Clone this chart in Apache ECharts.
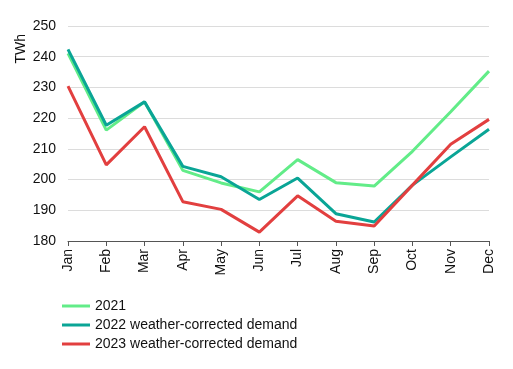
<!DOCTYPE html>
<html><head><meta charset="utf-8">
<script src="https://cdn.jsdelivr.net/npm/echarts@6/dist/echarts.min.js"></script>
<style>html,body{margin:0;padding:0;background:#fff}#c{width:513px;height:369px}</style>
</head><body><div id="c"></div>
<script>
const months = ['Jan','Feb','Mar','Apr','May','Jun','Jul','Aug','Sep','Oct','Nov','Dec'];
const s2021 = [241.1,216.1,225.3,203.0,198.9,196.0,206.5,199.0,197.9,209.2,222.1,235.3];
const s2022 = [242.4,217.7,225.3,204.3,200.9,193.5,200.5,188.9,186.2,198.2,207.4,216.4];
const s2023 = [230.4,204.8,217.2,192.8,190.3,182.9,194.7,186.4,184.9,198.2,211.5,219.6];
const names = ['2021','2022 weather-corrected demand','2023 weather-corrected demand'];
const colors = ['#62ec88','#0aa596','#e23f3f'];
const unit = 'TWh';
const font = 'Arial, "Liberation Sans", sans-serif';
const chart = echarts.init(document.getElementById('c'));
const mk = (n,d,c,z)=>({name:n,type:'line',data:d,showSymbol:false,symbol:'none',z:z,
  lineStyle:{width:3,color:c},itemStyle:{color:c}});
chart.setOption({
  animation:false,
  grid:{left:68,right:24,top:26,bottom:128,outerBoundsMode:'none',containLabel:false},
  graphic:[{type:'text',left:14,top:34,rotation:Math.PI/2,
    style:{text:unit,font:'14px '+font,fill:'#111'}}],
  legend:{orient:'vertical',left:57,top:294,itemWidth:28,itemHeight:3,itemGap:5,icon:'rect',
    data:names,textStyle:{fontFamily:font,fontSize:14,color:'#111',lineHeight:14}},
  xAxis:{type:'category',data:months,boundaryGap:false,
    axisLine:{lineStyle:{color:'#555',width:1}},
    axisTick:{show:true,length:5,lineStyle:{color:'#555'}},
    axisLabel:{rotate:90,fontFamily:font,fontSize:14,color:'#111',margin:8,interval:0}},
  yAxis:{type:'value',min:180,max:250,interval:10,
    axisLine:{show:false},axisTick:{show:false},
    splitLine:{lineStyle:{color:'#dcdcdc',width:1}},
    axisLabel:{fontFamily:font,fontSize:14,color:'#111',margin:12}},
  series:[mk(names[0],s2021,colors[0],2),mk(names[1],s2022,colors[1],3),mk(names[2],s2023,colors[2],4)]
});
</script></body></html>
